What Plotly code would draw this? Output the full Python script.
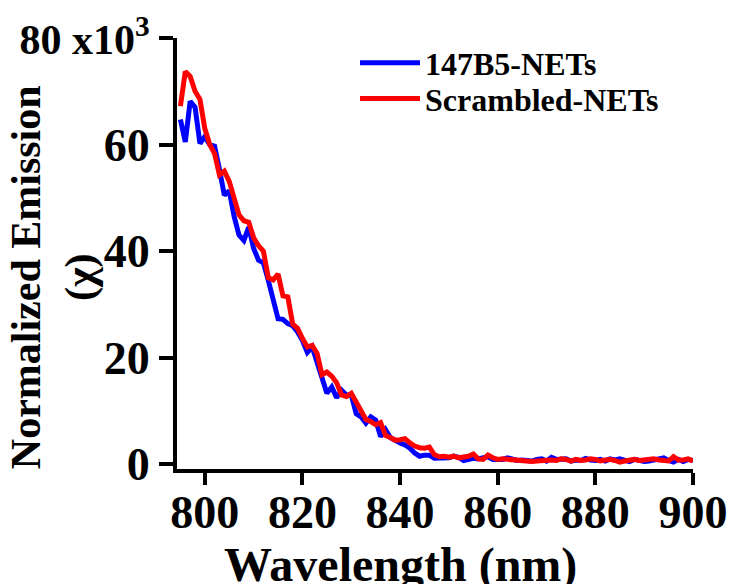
import plotly.graph_objects as go

wavelength = list(range(795, 901))

b147_nets = [64.7, 60.5, 68.1, 67.0, 60.2, 61.5, 60.0, 59.7, 55.3, 50.5,
             51.3, 46.5, 43.0, 42.0, 44.5, 40.5, 38.3, 37.8, 34.5, 30.5,
             27.3, 27.2, 26.4, 26.0, 24.8, 23.2, 21.0, 22.0, 19.2, 16.5,
             13.3, 14.5, 12.5, 13.9, 13.0, 13.0, 9.5, 8.9, 7.7, 8.9,
             8.3, 5.2, 6.5, 5.0, 4.4, 4.0, 3.6, 3.0, 2.1, 1.5,
             1.7, 1.7, 1.1, 1.1, 1.0, 1.2, 1.5, 1.3, 0.7, 1.0,
             1.1, 1.0, 1.2, 1.4, 0.9, 0.8, 0.9, 1.2, 0.9, 0.7,
             0.8, 0.7, 0.6, 0.9, 1.0, 0.6, 1.3, 0.9, 0.9, 1.0,
             0.6, 0.8, 0.7, 1.1, 0.8, 0.7, 0.9, 0.6, 1.0, 0.8,
             1.0, 0.7, 0.5, 0.9, 0.6, 0.5, 0.6, 0.8, 0.9, 1.2,
             0.7, 0.4, 0.9, 0.5, 0.9, 0.7]

scrambled_nets = [67.2, 73.7, 72.8, 70.0, 68.5, 63.0, 60.0, 58.3, 54.3, 55.0,
                  53.1, 50.0, 46.8, 45.7, 45.4, 42.5, 41.0, 40.0, 35.0, 34.6,
                  35.7, 31.6, 31.4, 26.3, 25.5, 23.6, 22.0, 22.3, 20.8, 16.8,
                  17.3, 16.5, 15.3, 13.0, 12.7, 13.3, 11.8, 9.9, 8.4, 8.0,
                  7.4, 7.8, 5.4, 5.0, 4.5, 4.6, 4.8, 4.0, 3.4, 3.1,
                  3.0, 3.2, 1.8, 1.4, 1.5, 1.3, 1.5, 1.2, 1.3, 1.5,
                  1.9, 1.0, 0.9, 1.7, 1.2, 0.9, 1.0, 0.9, 1.0, 0.8,
                  0.8, 0.7, 0.5, 0.6, 0.7, 0.9, 0.8, 0.7, 1.0, 0.9,
                  0.6, 0.9, 0.7, 0.8, 1.0, 0.9, 0.6, 0.8, 0.9, 0.7,
                  0.4, 0.6, 0.8, 0.9, 0.7, 0.8, 0.9, 1.0, 0.8, 0.7,
                  0.6, 1.4, 0.8, 0.8, 1.0, 0.6]

y_tickvals = [0, 20, 40, 60, 80]
y_ticktext = ["0", "20", "40", "60",
              "<span style='font-size:42px'>80 x10<sup>3</sup></span>"]
x_tickvals = [800, 820, 840, 860, 880, 900]

FONT = "Liberation Serif, Times New Roman, serif"

fig = go.Figure()
fig.add_trace(go.Scatter(x=wavelength, y=b147_nets, mode="lines",
                         name="147B5-NETs", legend="legend",
                         line=dict(color="#0000FF", width=5)))
fig.add_trace(go.Scatter(x=wavelength, y=scrambled_nets, mode="lines",
                         name="Scrambled-NETs", legend="legend2",
                         line=dict(color="#FF0000", width=5)))

leg_common = dict(xanchor="left", yanchor="middle", itemwidth=60,
                  font=dict(family=FONT, size=32, color="black", weight="bold"),
                  bgcolor="rgba(0,0,0,0)")

fig.update_layout(
    width=729, height=584,
    margin=dict(l=177, r=36, t=38, b=115, autoexpand=False),
    plot_bgcolor="white", paper_bgcolor="white",
    font=dict(family=FONT, color="black", weight="bold"),
    showlegend=True,
    legend=dict(x=0.345, y=0.942, **leg_common),
    legend2=dict(x=0.345, y=0.859, **leg_common),
    xaxis=dict(range=[794.3, 900], tickvals=x_tickvals,
               showline=True, linecolor="black", linewidth=4,
               ticks="outside", ticklen=12, tickwidth=4, tickcolor="black",
               showgrid=False, zeroline=False, automargin=False,
               ticklabelstandoff=-12,
               tickfont=dict(family=FONT, size=46, color="black", weight="bold")),
    yaxis=dict(range=[-0.9, 80], tickvals=y_tickvals, ticktext=y_ticktext,
               showline=True, linecolor="black", linewidth=4,
               ticks="outside", ticklen=14, tickwidth=4, tickcolor="black",
               showgrid=False, zeroline=False, automargin=False,
               tickfont=dict(family=FONT, size=46, color="black", weight="bold")),
    annotations=[
        dict(text="Normalized Emission<br>(χ)", textangle=-90,
             xref="paper", yref="paper", x=-0.2384, y=0.445,
             xanchor="center", yanchor="middle", showarrow=False,
             font=dict(family=FONT, size=42, color="black", weight="bold")),
        dict(text="Wavelength (nm)",
             xref="paper", yref="paper", x=0.434, y=-0.222,
             xanchor="center", yanchor="middle", showarrow=False,
             font=dict(family=FONT, size=48, color="black", weight="bold")),
    ],
)

fig.write_html("out.html")
